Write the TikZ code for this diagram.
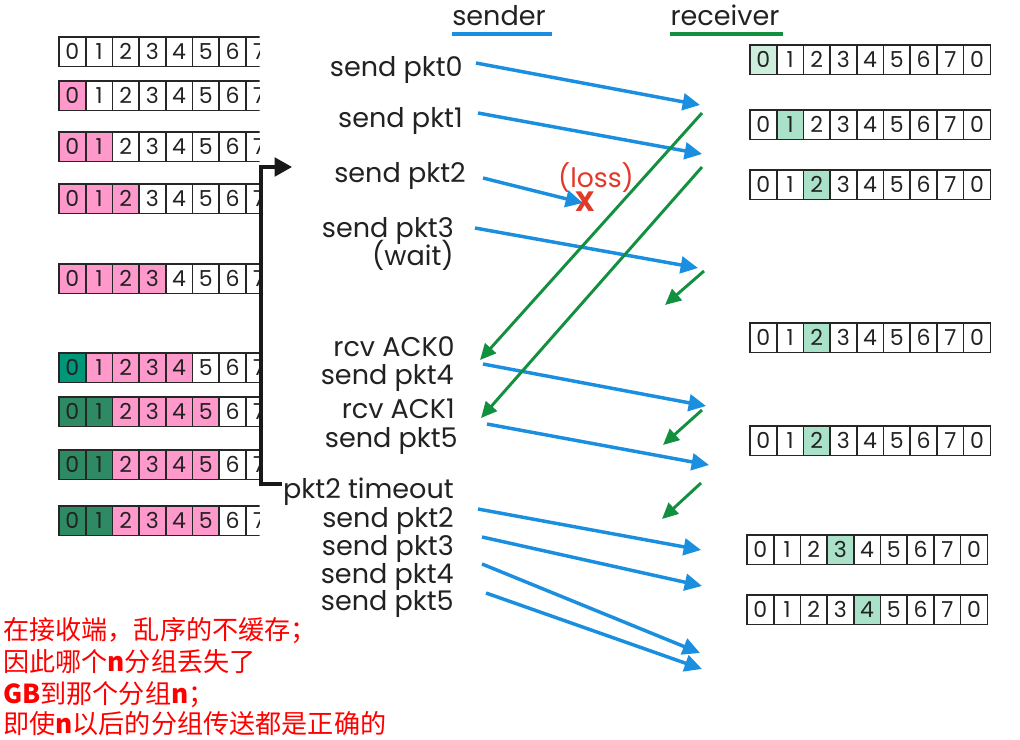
\documentclass[tikz,border=0pt]{standalone}
\usepackage{fontspec}
\setmainfont{Poppins}
\newfontfamily\cjk{Noto Sans CJK SC}
\usetikzlibrary{arrows.meta}
\definecolor{pinkc}{HTML}{FF99CC}
\definecolor{tealc}{HTML}{00967A}
\definecolor{greenc}{HTML}{2E8A62}
\definecolor{lgreen}{HTML}{A9E2C9}
\definecolor{llgreen}{HTML}{CDEEDD}
\definecolor{bluec}{HTML}{1A8FE0}
\definecolor{greenl}{HTML}{13903F}
\definecolor{redc}{HTML}{E03A2A}
\definecolor{txt}{HTML}{222222}
\tikzset{
 cellbox/.style={draw=black!85, line width=1.2pt, minimum width=20.02pt, minimum height=22.1pt, inner sep=0pt, font=\fontsize{16.5}{16.5}\selectfont, text=txt},
 lbl/.style={anchor=base east, inner sep=0pt, font=\fontsize{20.3}{20.3}\selectfont, text=txt},
 hdr/.style={anchor=base, inner sep=0pt, font=\fontsize{20.3}{20.3}\selectfont, text=txt},
 cjkline/.style={anchor=base west, inner sep=0pt, font=\cjk\fontsize{19.6}{19.6}\selectfont, text=red},
 sendarrow/.style={draw=bluec, line width=2.6pt, -{Triangle[length=13pt,width=12.5pt]}},
 ackarrow/.style={draw=greenl, line width=2.2pt, -{Triangle[length=12pt,width=11pt]}},
}
\newcommand\cellarray[4]{\foreach \celllab/\cellcol [count=\k from 0] in {#4} {\node[cellbox, fill=\cellcol] (#3-\k) at ({#1+13.35+26.7*\k},{#2+14.75}) {\celllab};}}
\begin{document}
\begin{tikzpicture}[x=0.75pt,y=-0.75pt]
\useasboundingbox[fill=white] (0,0) rectangle (1020,739);
% left sender windows
\begin{scope}
\clip (0,0) rectangle (259.5,739);
\cellarray{59}{37}{La}{0/white,1/white,2/white,3/white,4/white,5/white,6/white,7/white}
\cellarray{59}{81}{Lb}{0/pinkc,1/white,2/white,3/white,4/white,5/white,6/white,7/white}
\cellarray{59}{132}{Lc}{0/pinkc,1/pinkc,2/white,3/white,4/white,5/white,6/white,7/white}
\cellarray{59}{184}{Ld}{0/pinkc,1/pinkc,2/pinkc,3/white,4/white,5/white,6/white,7/white}
\cellarray{59}{264}{Le}{0/pinkc,1/pinkc,2/pinkc,3/pinkc,4/white,5/white,6/white,7/white}
\cellarray{59}{353}{Lf}{0/tealc,1/pinkc,2/pinkc,3/pinkc,4/pinkc,5/white,6/white,7/white}
\cellarray{59}{397}{Lg}{0/greenc,1/greenc,2/pinkc,3/pinkc,4/pinkc,5/pinkc,6/white,7/white}
\cellarray{59}{450}{Lh}{0/greenc,1/greenc,2/pinkc,3/pinkc,4/pinkc,5/pinkc,6/white,7/white}
\cellarray{59}{506}{Li}{0/greenc,1/greenc,2/pinkc,3/pinkc,4/pinkc,5/pinkc,6/white,7/white}
\end{scope}
% right receiver windows
\cellarray{750}{45}{Ra}{0/llgreen,1/white,2/white,3/white,4/white,5/white,6/white,7/white,0/white}
\cellarray{750}{110}{Rb}{0/white,1/lgreen,2/white,3/white,4/white,5/white,6/white,7/white,0/white}
\cellarray{750}{170}{Rc}{0/white,1/white,2/lgreen,3/white,4/white,5/white,6/white,7/white,0/white}
\cellarray{750}{323}{Rd}{0/white,1/white,2/lgreen,3/white,4/white,5/white,6/white,7/white,0/white}
\cellarray{750}{426}{Re}{0/white,1/white,2/lgreen,3/white,4/white,5/white,6/white,7/white,0/white}
\cellarray{747}{535}{Rf}{0/white,1/white,2/white,3/lgreen,4/white,5/white,6/white,7/white,0/white}
\cellarray{747}{595}{Rg}{0/white,1/white,2/white,3/white,4/lgreen,5/white,6/white,7/white,0/white}
% headers
\node[hdr] (sender) at (499,25) {sender};
\node[hdr] (receiver) at (725,25) {receiver};
\coordinate (bu1) at (452,34);
\coordinate (bu2) at (552,34);
\coordinate (ru1) at (670,34);
\coordinate (ru2) at (783,34);
\draw[bluec, line width=3pt] (bu1) -- (bu2);
\draw[greenl, line width=3pt] (ru1) -- (ru2);
% sender labels
\node[lbl] (l1) at (463,76) {send pkt0};
\node[lbl] (l2) at (463,127) {send pkt1};
\node[lbl] (l3) at (466,182) {send pkt2};
\node[lbl] (l4) at (454,237) {send pkt3};
\node[lbl] (l5) at (454,265) {(wait)};
\node[lbl] (l6) at (455,356) {rcv ACK0};
\node[lbl] (l7) at (454,384) {send pkt4};
\node[lbl] (l8) at (455,418) {rcv ACK1};
\node[lbl] (l9) at (458,447) {send pkt5};
\node[lbl] (l10) at (454,498) {pkt2 timeout};
\node[lbl] (l11) at (454,527) {send pkt2};
\node[lbl] (l12) at (454,555) {send pkt3};
\node[lbl] (l13) at (454,583) {send pkt4};
\node[lbl] (l14) at (454,610) {send pkt5};
% loss
\node[anchor=base, inner sep=0pt, font=\fontsize{20}{20}\selectfont, text=redc] (loss) at (596,187) {(loss)};
% blue sends
\coordinate (s0) at (476,63);  \coordinate (r0) at (700,105);
\coordinate (s1) at (478,113); \coordinate (r1) at (702,154);
\coordinate (s2) at (483,178); \coordinate (r2) at (583,203);
\coordinate (s3) at (475,228); \coordinate (r3) at (698,268);
\coordinate (s4) at (483,364); \coordinate (r4) at (706,406);
\coordinate (s5) at (487,424); \coordinate (r5) at (709,465);
\coordinate (s6) at (478,509); \coordinate (r6) at (701,550);
\coordinate (s7) at (482,537); \coordinate (r7) at (702,586);
\coordinate (s8) at (482,564); \coordinate (r8) at (700,653);
\coordinate (s9) at (486,593); \coordinate (r9) at (702,669);
\foreach \i in {0,...,9} {\draw[sendarrow] (s\i) -- (r\i);}
\node[anchor=base, inner sep=0pt, font=\bfseries\fontsize{21}{21}\selectfont, text=redc] (xmark) at (585,211) {X};
% green acks
\coordinate (a0) at (702,113); \coordinate (b0) at (480,360);
\coordinate (a1) at (702,167); \coordinate (b1) at (481,418);
\coordinate (a2) at (704,271); \coordinate (b2) at (665,305);
\coordinate (a3) at (702,410); \coordinate (b3) at (663,445);
\coordinate (a4) at (701,483); \coordinate (b4) at (662,519);
\foreach \i in {0,...,4} {\draw[ackarrow] (a\i) -- (b\i);}
% timeout bracket
\coordinate (bk1) at (282,484);
\coordinate (bk2) at (261,484);
\coordinate (bk3) at (261,167);
\coordinate (bk4) at (292,167);
\draw[black!90, line width=2.4pt, -{Triangle[length=13pt,width=14pt]}] (bk1) -- (bk2) -- (bk3) -- (bk4);
% chinese notes
\node[cjkline] (c1) at (3,639) {在接收端，乱序的不缓存；};
\node[cjkline] (c2) at (3,671) {因此哪个{\bfseries n}分组丢失了};
\node[cjkline] (c3) at (3,703) {{\bfseries GB}到那个分组{\bfseries n}；};
\node[cjkline] (c4) at (3,733) {即使{\bfseries n}以后的分组传送都是正确的};
\end{tikzpicture}
\end{document}
